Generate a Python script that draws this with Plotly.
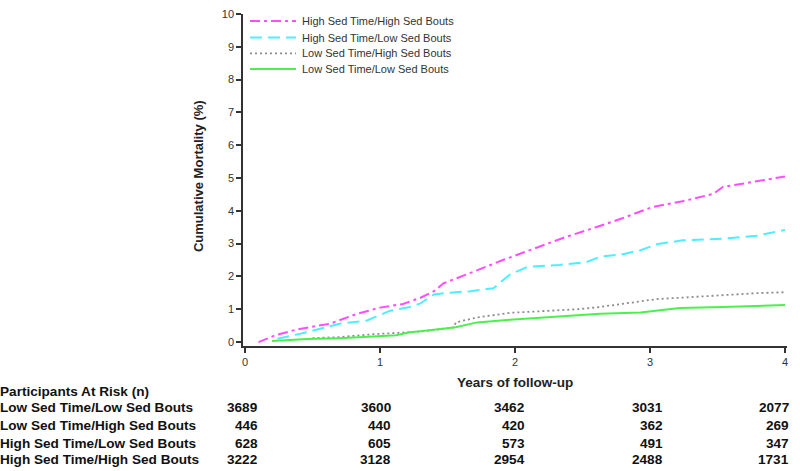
import plotly.graph_objects as go

# ---------------- data ----------------
years_hh = [0.1, 0.22, 0.39, 0.63, 0.83, 1.0, 1.17, 1.3, 1.4, 1.47, 1.69, 1.91, 2.13, 2.36, 2.6, 2.8, 3.02, 3.24, 3.47, 3.54, 3.72, 4.0]
mort_hh = [0.0, 0.2, 0.39, 0.56, 0.86, 1.05, 1.16, 1.35, 1.55, 1.79, 2.14, 2.5, 2.83, 3.18, 3.5, 3.78, 4.12, 4.29, 4.52, 4.73, 4.85, 5.05]

years_hl = [0.24, 0.46, 0.7, 0.9, 1.07, 1.22, 1.3, 1.4, 1.5, 1.67, 1.84, 1.96, 2.09, 2.33, 2.53, 2.63, 2.8, 2.93, 3.05, 3.24, 3.54, 3.79, 4.0]
mort_hl = [0.1, 0.3, 0.56, 0.65, 0.95, 1.07, 1.18, 1.45, 1.5, 1.55, 1.64, 2.05, 2.29, 2.35, 2.44, 2.6, 2.68, 2.8, 2.98, 3.1, 3.15, 3.24, 3.42]

years_lh = [0.5, 0.7, 0.95, 1.12, 1.3, 1.5, 1.55, 1.56, 1.72, 1.96, 2.21, 2.46, 2.63, 2.8, 3.05, 3.3, 3.54, 3.79, 4.0]
mort_lh = [0.12, 0.15, 0.24, 0.27, 0.32, 0.42, 0.45, 0.6, 0.75, 0.89, 0.95, 1.0, 1.07, 1.16, 1.31, 1.37, 1.43, 1.49, 1.52]

years_ll = [0.2, 0.46, 0.7, 0.95, 1.12, 1.22, 1.3, 1.56, 1.72, 1.96, 2.21, 2.46, 2.63, 2.93, 3.22, 3.54, 4.0]
mort_ll = [0.03, 0.09, 0.12, 0.18, 0.21, 0.3, 0.33, 0.45, 0.6, 0.68, 0.75, 0.83, 0.86, 0.9, 1.04, 1.07, 1.13]

series_names = ["High Sed Time/High Sed Bouts", "High Sed Time/Low Sed Bouts",
                "Low Sed Time/High Sed Bouts", "Low Sed Time/Low Sed Bouts"]

x_ticks = [0, 1, 2, 3, 4]
y_ticks = [0, 1, 2, 3, 4, 5, 6, 7, 8, 9, 10]

risk_title = "Participants At Risk (n)"
risk_labels = ["Low Sed Time/Low Sed Bouts", "Low Sed Time/High Sed Bouts",
               "High Sed Time/Low Sed Bouts", "High Sed Time/High Sed Bouts"]
risk_ll = [3689, 3600, 3462, 3031, 2077]
risk_lh = [446, 440, 420, 362, 269]
risk_hl = [628, 605, 573, 491, 347]
risk_hh = [3222, 3128, 2954, 2488, 1731]

# ---------------- figure ----------------
W, H = 800, 471
ML, MR, MT, MB = 243, 13, 8, 125
FONT = "Liberation Sans, Arial, sans-serif"

def px_x(px):
    return (px - ML) / (W - ML - MR)

def px_y(py):
    return (H - MB - py) / (H - MT - MB)

fig = go.Figure()
styles = [
    (years_hh, mort_hh, "#ff4dff", "10px,4px,3px,4px", 2),
    (years_hl, mort_hl, "#4deeff", "12px,6px", 2),
    (years_lh, mort_lh, "#8c8c8c", "2px,3px", 1.8),
    (years_ll, mort_ll, "#4cf04c", "solid", 2),
]
for (xs, ys, col, dash, w), name in zip(styles, series_names):
    fig.add_trace(go.Scatter(x=xs, y=ys, mode="lines", name=name, showlegend=False,
                             line=dict(color=col, dash=dash, width=w)))

axis_col = "#333333"
fig.update_xaxes(range=[-0.0148, 4.0148], tickvals=x_ticks, ticks="outside", ticklen=5,
                 tickwidth=1.5, tickcolor=axis_col, showline=True, linecolor=axis_col,
                 linewidth=1.5, showgrid=False, zeroline=False,
                 tickfont=dict(family=FONT, size=11, color="#333333"))
fig.update_yaxes(range=[-0.12, 10.0], tickvals=y_ticks, ticks="outside", ticklen=5,
                 tickwidth=1.5, tickcolor=axis_col, showline=True, linecolor=axis_col,
                 linewidth=1.5, showgrid=False, zeroline=False,
                 tickfont=dict(family=FONT, size=11, color="#333333"))

ann = []
shapes = []
# legend (drawn manually for exact spacing)
leg_rows = [15, 32, 48, 64]
for (xs, ys, col, dash, w), name, py in zip(styles, series_names, leg_rows):
    shapes.append(dict(type="line", xref="paper", yref="paper",
                       x0=px_x(250), x1=px_x(296), y0=px_y(py), y1=px_y(py),
                       line=dict(color=col, dash=dash, width=w)))
    ann.append(dict(text=name, xref="paper", yref="paper", x=px_x(300), y=px_y(py),
                    showarrow=False, xanchor="left", yanchor="middle",
                    font=dict(family=FONT, size=11, color="#333333")))

# axis titles
ann.append(dict(text="<b>Years of follow-up</b>", xref="x", yref="paper", x=2, y=px_y(383),
                showarrow=False, xanchor="center", yanchor="middle",
                font=dict(family=FONT, size=13.5, color="#222222")))
ann.append(dict(text="<b>Cumulative Mortality (%)</b>", xref="paper", yref="paper",
                x=px_x(198), y=px_y(173), showarrow=False, textangle=-90,
                xanchor="center", yanchor="middle",
                font=dict(family=FONT, size=13, color="#222222")))
# risk table
TF = 13.6
ann.append(dict(text="<b>" + risk_title + "</b>", xref="paper", yref="paper", x=px_x(-2),
                y=px_y(392), showarrow=False, xanchor="left", yanchor="middle",
                font=dict(family=FONT, size=TF, color="#111111")))
row_px = [409, 427, 445, 462]
col_shift = [15, 13, 12, 15, 6]
for lab, counts, py in zip(risk_labels, [risk_ll, risk_lh, risk_hl, risk_hh], row_px):
    ann.append(dict(text="<b>" + lab + "</b>", xref="paper", yref="paper", x=px_x(-2),
                    y=px_y(py), showarrow=False, xanchor="left", yanchor="middle",
                    font=dict(family=FONT, size=TF, color="#111111")))
    for t, c, sh in zip(x_ticks, counts, col_shift):
        ann.append(dict(text="<b>%d</b>" % c, xref="x", yref="paper", x=t, xshift=sh,
                        y=px_y(py), showarrow=False, xanchor="right", yanchor="middle",
                        font=dict(family=FONT, size=TF, color="#111111")))

fig.update_layout(
    width=W, height=H, margin=dict(l=ML, r=MR, t=MT, b=MB, pad=0),
    paper_bgcolor="white", plot_bgcolor="white",
    annotations=ann, shapes=shapes,
    showlegend=False,
)

fig.write_html("out.html", config={"displayModeBar": False},
               post_script="document.body.style.margin='0';document.body.style.padding='0';"
                           "document.documentElement.style.overflow='hidden';")
